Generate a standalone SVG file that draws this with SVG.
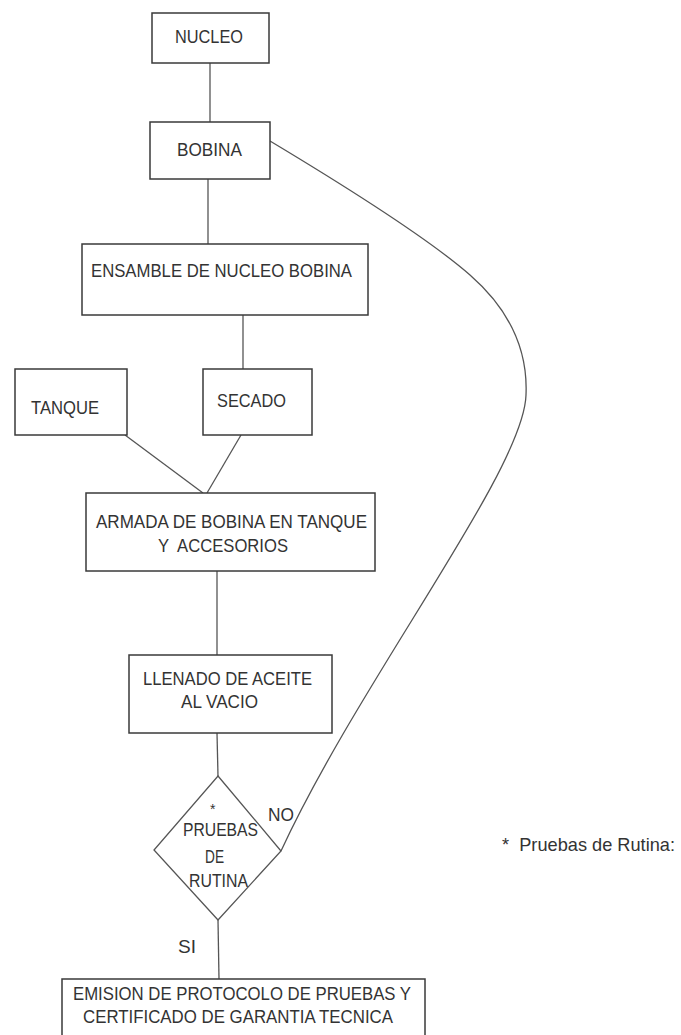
<svg xmlns="http://www.w3.org/2000/svg" width="681" height="1035" viewBox="0 0 681 1035">
<style>
  .box { fill: #ffffff; stroke: #3a3a3a; stroke-width: 1.5; }
  .ln { fill: none; stroke: #555555; stroke-width: 1.3; }
  .t { font-family: "Liberation Sans", Arial, sans-serif; font-size: 18.5px; fill: #333333; }
</style>
<rect width="681" height="1035" fill="#ffffff"/>
<g id="connectors">
  <line class="ln" x1="210" y1="63" x2="210" y2="122"/>
  <line class="ln" x1="208" y1="179" x2="208" y2="244"/>
  <line class="ln" x1="243" y1="315" x2="243" y2="369"/>
  <line class="ln" x1="125" y1="435" x2="203" y2="493"/>
  <line class="ln" x1="241" y1="435" x2="207" y2="493"/>
  <line class="ln" x1="217" y1="571" x2="217" y2="655"/>
  <line class="ln" x1="217" y1="733" x2="218" y2="776"/>
  <line class="ln" x1="218" y1="920" x2="219" y2="979"/>
  <path class="ln" d="M270,141 C360,195 430,240 470,275 C510,310 528,350 526,395 C524,470 360,680 281,851"/>
  <text class="t" x="268" y="821" textLength="26" lengthAdjust="spacingAndGlyphs">NO</text>
  <text class="t" x="178" y="953" textLength="18" lengthAdjust="spacingAndGlyphs">SI</text>
</g>
<g id="nucleo">
  <rect class="box" x="152" y="13" width="117" height="50"/>
  <text class="t" x="175" y="43" textLength="68" lengthAdjust="spacingAndGlyphs">NUCLEO</text>
</g>
<g id="bobina">
  <rect class="box" x="150" y="122" width="120" height="57"/>
  <text class="t" x="177" y="156" textLength="65" lengthAdjust="spacingAndGlyphs">BOBINA</text>
</g>
<g id="ensamble">
  <rect class="box" x="82" y="244" width="286" height="71"/>
  <text class="t" x="91" y="277" textLength="261" lengthAdjust="spacingAndGlyphs">ENSAMBLE DE NUCLEO BOBINA</text>
</g>
<g id="tanque">
  <rect class="box" x="15" y="369" width="112" height="66"/>
  <text class="t" x="31" y="414" textLength="68" lengthAdjust="spacingAndGlyphs">TANQUE</text>
</g>
<g id="secado">
  <rect class="box" x="203" y="369" width="109" height="66"/>
  <text class="t" x="217" y="407" textLength="69" lengthAdjust="spacingAndGlyphs">SECADO</text>
</g>
<g id="armada">
  <rect class="box" x="86" y="493" width="289" height="78"/>
  <text class="t" x="96" y="528" textLength="271" lengthAdjust="spacingAndGlyphs">ARMADA DE BOBINA EN TANQUE</text>
  <text class="t" x="158" y="552" textLength="130" lengthAdjust="spacingAndGlyphs" xml:space="preserve">Y  ACCESORIOS</text>
</g>
<g id="llenado">
  <rect class="box" x="129" y="655" width="203" height="78"/>
  <text class="t" x="143" y="685" textLength="169" lengthAdjust="spacingAndGlyphs">LLENADO DE ACEITE</text>
  <text class="t" x="181" y="708" textLength="77" lengthAdjust="spacingAndGlyphs">AL VACIO</text>
</g>
<g id="pruebas">
  <polygon class="box" points="218,776 281,851 218,920 154,850" style="stroke:#555555;stroke-width:1.3"/>
  <text class="t" x="210" y="814" style="font-size:14px">*</text>
  <text class="t" x="183" y="836" textLength="75" lengthAdjust="spacingAndGlyphs">PRUEBAS</text>
  <text class="t" x="205" y="863" textLength="19" lengthAdjust="spacingAndGlyphs">DE</text>
  <text class="t" x="189" y="887" textLength="59" lengthAdjust="spacingAndGlyphs">RUTINA</text>
</g>
<g id="emision">
  <rect class="box" x="62" y="979" width="363" height="70"/>
  <text class="t" x="73" y="1000" textLength="338" lengthAdjust="spacingAndGlyphs">EMISION DE PROTOCOLO DE PRUEBAS Y</text>
  <text class="t" x="83" y="1023" textLength="310" lengthAdjust="spacingAndGlyphs">CERTIFICADO DE GARANTIA TECNICA</text>
</g>
<g id="nota">
  <text class="t" x="502" y="851" textLength="173" lengthAdjust="spacingAndGlyphs" xml:space="preserve">*  Pruebas de Rutina:</text>
</g>
</svg>
